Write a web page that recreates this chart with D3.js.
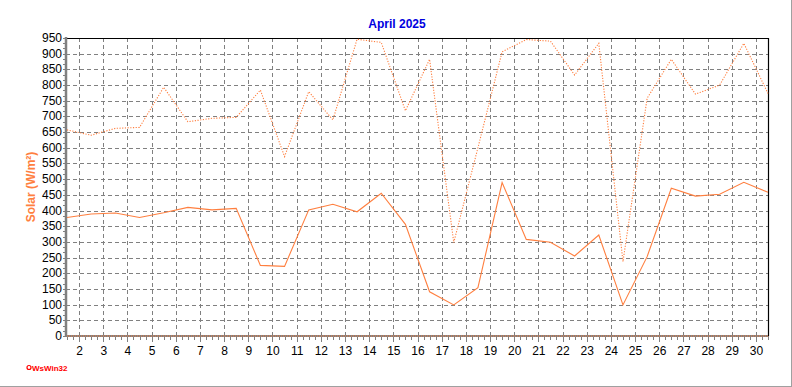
<!DOCTYPE html>
<html>
<head>
<meta charset="utf-8">
<script src="https://cdn.jsdelivr.net/npm/d3@7"></script>
<style>
    html, body { margin: 0; padding: 0; background: #fff; }
    svg { display: block; font-family: 'Liberation Sans', Arial, sans-serif; }
</style>
</head>
<body>
<div id="chart"></div>
<script>
// giorni del mese (valori giornalieri, disegnati a mezzogiorno)
const days = [1, 2, 3, 4, 5, 6, 7, 8, 9, 10, 11, 12, 13, 14, 15, 16, 17, 18, 19, 20, 21, 22, 23, 24, 25, 26, 27, 28, 29, 30];

// radiazione solare media giornaliera (W/m²) - linea continua
const solarAvg = [378, 389, 392, 378, 393, 410, 402, 407, 225, 222, 402, 420, 396, 455, 356, 141, 99, 154, 489, 308, 299, 255, 322, 99, 253, 471, 446, 452, 490, 458];

// radiazione solare massima giornaliera (W/m²) - linea punteggiata
const solarMax = [657, 640, 662, 665, 793, 683, 694, 697, 784, 572, 779, 689, 946, 936, 718, 882, 298, 600, 906, 945, 940, 832, 933, 237, 758, 882, 771, 800, 933, 773];

// minimo giornaliero (sempre zero)
const solarMin = [0, 0, 0, 0, 0, 0, 0, 0, 0, 0, 0, 0, 0, 0, 0, 0, 0, 0, 0, 0, 0, 0, 0, 0, 0, 0, 0, 0, 0, 0];

// etichette degli assi
const xTicks = [2, 3, 4, 5, 6, 7, 8, 9, 10, 11, 12, 13, 14, 15, 16, 17, 18, 19, 20, 21, 22, 23, 24, 25, 26, 27, 28, 29, 30];
const yTicks = [0, 50, 100, 150, 200, 250, 300, 350, 400, 450, 500, 550, 600, 650, 700, 750, 800, 850, 900, 950];

const title = 'April 2025';
const yTitle = 'Solar (W/m²)';

const width = 792, height = 387;
const margin = { top: 38, right: 24, bottom: 51, left: 67 };
const lineColor = '#ff7f3f';
const gridColor = '#808080';

const svg = d3
    .select('#chart')
    .append('svg')
    .attr('width', width)
    .attr('height', height);

// cornice grigia a destra e in basso
svg.append('line')
    .attr('x1', 0).attr('x2', width).attr('y1', height - 0.5).attr('y2', height - 0.5)
    .attr('stroke', '#a0a0a0');
svg.append('line')
    .attr('x1', width - 0.5).attr('x2', width - 0.5).attr('y1', 0).attr('y2', height)
    .attr('stroke', '#a0a0a0');

// asse x: tempo in giorni dall'inizio del mese, valori a mezzogiorno
const x = d3
    .scaleLinear()
    .domain([0.5, 29.5])
    .range([margin.left, width - margin.right]);

// asse y
const y = d3
    .scaleLinear()
    .domain([0, 950])
    .range([height - margin.bottom, margin.top]);

const plotTop = y(950), plotBottom = y(0);
const plotLeft = margin.left - 1, plotRight = x(29.5);

// griglia orizzontale
svg.append('g')
    .selectAll('line')
    .data(yTicks.filter((d) => d > 0 && d < 950))
    .join('line')
    .attr('x1', plotLeft)
    .attr('x2', plotRight)
    .attr('y1', (d) => Math.round(y(d)) + 0.5)
    .attr('y2', (d) => Math.round(y(d)) + 0.5)
    .attr('stroke', gridColor)
    .attr('stroke-dasharray', '4,3');

// griglia verticale
svg.append('g')
    .selectAll('line')
    .data(xTicks)
    .join('line')
    .attr('x1', (d) => Math.round(x(d - 1)) + 0.5)
    .attr('x2', (d) => Math.round(x(d - 1)) + 0.5)
    .attr('y1', plotTop)
    .attr('y2', plotBottom)
    .attr('stroke', gridColor)
    .attr('stroke-dasharray', '4,3');

// bordo nero sopra e a destra
svg.append('path')
    .attr('d', `M${plotLeft},${Math.round(plotTop) + 0.5}H${Math.round(plotRight) + 0.5}V${plotBottom}`)
    .attr('fill', 'none')
    .attr('stroke', '#000')
    .attr('stroke-width', 1.2);

// tacche secondarie asse y (ogni 50/3)
const yMinor = d3.range(0, 950.01, 50 / 3);
svg.append('g')
    .selectAll('line')
    .data(yMinor)
    .join('line')
    .attr('x1', plotLeft - 3)
    .attr('x2', plotLeft)
    .attr('y1', (d) => Math.round(y(d)) + 0.5)
    .attr('y2', (d) => Math.round(y(d)) + 0.5)
    .attr('stroke', gridColor);

// tacche secondarie asse x (ogni 6 ore)
const xMinor = d3.range(0.5, 29.51, 0.25);
svg.append('g')
    .selectAll('line')
    .data(xMinor)
    .join('line')
    .attr('x1', (d) => Math.round(x(d)) + 0.5)
    .attr('x2', (d) => Math.round(x(d)) + 0.5)
    .attr('y1', plotBottom)
    .attr('y2', (d) => plotBottom + (Number.isInteger(d) ? 6 : 4))
    .attr('stroke', gridColor);

// etichette asse y
svg.append('g')
    .selectAll('text')
    .data(yTicks)
    .join('text')
    .attr('x', 62)
    .attr('y', (d) => y(d) + 4)
    .attr('text-anchor', 'end')
    .attr('font-size', 12)
    .attr('fill', '#000')
    .text((d) => d);

// etichette asse x
svg.append('g')
    .selectAll('text')
    .data(xTicks)
    .join('text')
    .attr('x', (d) => x(d - 1) + 0.5)
    .attr('y', 355)
    .attr('text-anchor', 'middle')
    .attr('font-size', 12)
    .attr('fill', '#000')
    .text((d) => d);

// linee degli assi (grigio spesso)
svg.append('line')
    .attr('x1', plotLeft).attr('x2', plotLeft)
    .attr('y1', plotTop - 1).attr('y2', plotBottom + 1)
    .attr('stroke', gridColor)
    .attr('stroke-width', 2.5);
svg.append('line')
    .attr('x1', plotLeft).attr('x2', plotRight)
    .attr('y1', plotBottom).attr('y2', plotBottom)
    .attr('stroke', gridColor)
    .attr('stroke-width', 2);

const line = (values) =>
    d3.line()
        .x((d, i) => x(days[i] - 0.5))
        .y((d) => y(d))(values);

// minimo (a zero, sopra l'asse)
svg.append('path')
    .attr('d', line(solarMin))
    .attr('fill', 'none')
    .attr('stroke', lineColor)
    .attr('stroke-dasharray', '1,1');

// massimo punteggiato
svg.append('path')
    .attr('d', line(solarMax))
    .attr('fill', 'none')
    .attr('stroke', lineColor)
    .attr('stroke-width', 1.1)
    .attr('stroke-dasharray', '1.2,1.5');

// media continua
svg.append('path')
    .attr('d', line(solarAvg))
    .attr('fill', 'none')
    .attr('stroke', lineColor)
    .attr('stroke-width', 1.1);

// titolo
svg.append('text')
    .attr('x', 397)
    .attr('y', 28)
    .attr('text-anchor', 'middle')
    .attr('font-size', 12)
    .attr('font-weight', 'bold')
    .attr('fill', '#0000e0')
    .text(title);

// titolo asse y
svg.append('text')
    .attr('transform', 'translate(35,187) rotate(-90)')
    .attr('text-anchor', 'middle')
    .attr('font-size', 12)
    .attr('font-weight', 'bold')
    .attr('fill', lineColor)
    .text(yTitle);

// logo WsWin32
svg.append('circle')
    .attr('cx', 29)
    .attr('cy', 367.5)
    .attr('r', 2)
    .attr('fill', 'none')
    .attr('stroke', '#ff0000')
    .attr('stroke-width', 1.2);
svg.append('text')
    .attr('x', 32)
    .attr('y', 370.5)
    .attr('font-size', 8)
    .attr('font-weight', 'bold')
    .attr('fill', '#ff0000')
    .text('WsWin32');
</script>
</body>
</html>
